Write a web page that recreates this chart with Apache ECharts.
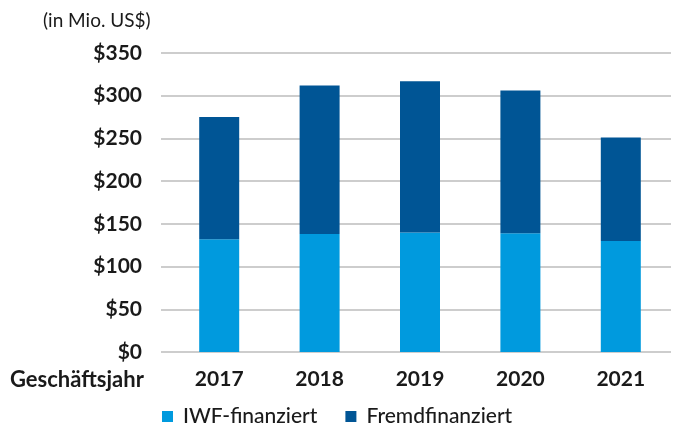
<!DOCTYPE html>
<html>
<head>
<meta charset="utf-8">
<script src="https://cdn.jsdelivr.net/npm/echarts@6/dist/echarts.min.js"></script>
<style>
  html, body { margin: 0; padding: 0; background: #fff; }
  #chart { width: 677px; height: 425px; }
</style>
</head>
<body>
<div id="chart"></div>
<script>
// Geschäftsjahre
const years = ['2017', '2018', '2019', '2020', '2021'];
// in Mio. US$
const iwfFinanziert = [132, 138, 140, 139, 130];
const fremdFinanziert = [143, 174, 177, 167, 121];
const seriesNames = ['IWF-finanziert', 'Fremdfinanziert'];
const colors = ['#009ade', '#005595'];

const font = 'Lato, "Noto Sans", sans-serif';
const gridColor = '#bdbdbd';

const chart = echarts.init(document.getElementById('chart'));

const option = {
  animation: false,
  color: colors,
  title: [
    {
      text: '(in Mio. US$)',
      left: 38, top: 6,
      textStyle: { fontFamily: font, fontSize: 19, fontWeight: 'normal', color: '#1a1a1a' }
    },
    {
      text: 'Geschäftsjahr',
      left: 5, top: 364,
      textStyle: { fontFamily: font, fontSize: 22, fontWeight: 'bold', color: '#1a1a1a' }
    }
  ],
  legend: {
    left: 157, top: 401,
    itemWidth: 11, itemHeight: 11,
    itemGap: 28,
    icon: 'rect',
    selectedMode: false,
    textStyle: { fontFamily: font, fontSize: 21, fontWeight: 500, color: '#1a1a1a', padding: [0, 0, 0, 5] },
    data: seriesNames
  },
  grid: { left: 169, right: 6, top: 53, bottom: 73 },
  xAxis: {
    type: 'category',
    data: years,
    axisLine: { show: false },
    axisTick: { show: false },
    axisLabel: { margin: 17, fontFamily: font, fontSize: 21, fontWeight: 'bold', color: '#1a1a1a' }
  },
  yAxis: {
    type: 'value',
    min: 0, max: 350, interval: 50,
    axisLine: { show: false },
    // kurze Striche links verlängern die Gitterlinien
    axisTick: { show: true, length: 8, lineStyle: { color: gridColor, width: 1.5 } },
    splitLine: { lineStyle: { color: gridColor, width: 1.5 } },
    axisLabel: {
      margin: 27,
      fontFamily: font, fontSize: 21, fontWeight: 'bold', color: '#1a1a1a',
      formatter: v => '$' + v
    }
  },
  series: [
    { name: seriesNames[0], type: 'bar', stack: 'total', barWidth: 40, data: iwfFinanziert },
    { name: seriesNames[1], type: 'bar', stack: 'total', barWidth: 40, data: fremdFinanziert }
  ]
};

chart.setOption(option);
</script>
</body>
</html>
